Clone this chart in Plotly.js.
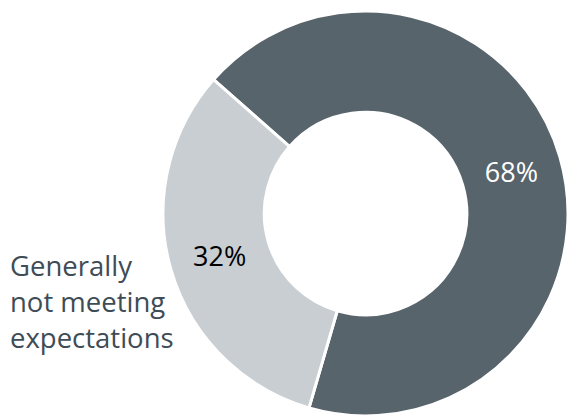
<!DOCTYPE html>
<html>
<head>
<meta charset="utf-8">
<script src="https://cdn.plot.ly/plotly-3.0.1.min.js"></script>
<style>html,body{margin:0;padding:0;background:#fff;}#chart{width:568px;height:417px;}</style>
</head>
<body>
<div id="chart"></div>
<script>
const categories = ["Generally meeting expectations", "Generally not meeting expectations"];
const values = [68, 32];
const sliceColors = ["#58646c", "#c9ced2"];
const textColors = ["#ffffff", "#000000"];
const sideLabel = "Generally<br>not meeting<br>expectations";

const trace = {
  type: "pie",
  labels: categories,
  values: values,
  hole: 0.5,
  sort: false,
  direction: "clockwise",
  rotation: -48.6,
  marker: { colors: sliceColors, line: { color: "#ffffff", width: 3 } },
  textinfo: "percent",
  texttemplate: "%{percent:.0%}",
  textposition: "inside",
  insidetextorientation: "horizontal",
  textfont: { family: "Open Sans, sans-serif", size: 27, color: textColors },
  hoverinfo: "label+percent",
  domain: { x: [0.287, 1], y: [0.001, 0.975] },
  showlegend: false
};

const layout = {
  width: 568,
  height: 417,
  margin: { l: 0, r: 0, t: 0, b: 0 },
  paper_bgcolor: "#ffffff",
  showlegend: false,
  annotations: [{
    text: sideLabel,
    xref: "paper", yref: "paper",
    x: 8 / 568, y: 0.2758,
    xanchor: "left", yanchor: "middle",
    align: "left",
    showarrow: false,
    font: { family: "Open Sans, sans-serif", size: 27.5, color: "#3e4c56" }
  }]
};

Plotly.newPlot("chart", [trace], layout, { displayModeBar: false, staticPlot: true });
</script>
</body>
</html>
